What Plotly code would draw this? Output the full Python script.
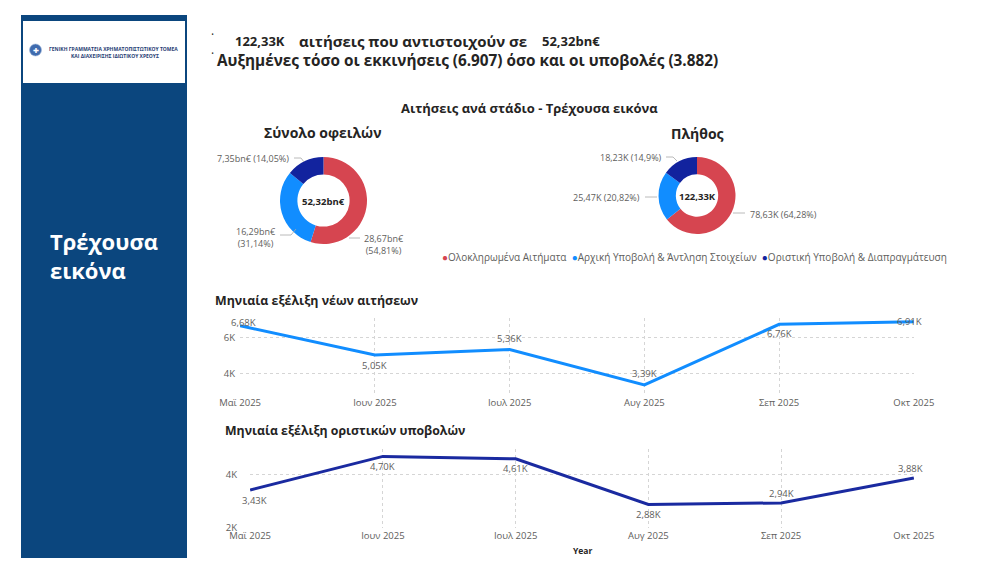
import plotly.graph_objects as go

W, H = 993, 573


def px(x):
    return x / W


def py(y):
    return 1 - y / H


# ---------------- data ----------------
stages = ["Ολοκληρωμένα Αιτήματα", "Αρχική Υποβολή & Άντληση Στοιχείων",
          "Οριστική Υποβολή & Διαπραγμάτευση"]
stage_colors = ["#D64550", "#118DFF", "#12239E"]
debt_bn = [28.67, 16.29, 7.35]
debt_pct = [54.81, 31.14, 14.05]
count_k = [78.63, 25.47, 18.23]
count_pct = [64.28, 20.82, 14.9]
total_debt_bn = 52.32
total_count_k = 122.33

months = ["Μαϊ 2025", "Ιουν 2025", "Ιουλ 2025", "Αυγ 2025", "Σεπ 2025", "Οκτ 2025"]
new_apps = [6680, 5050, 5360, 3390, 6760, 6907]
final_subs = [3430, 4700, 4610, 2880, 2940, 3882]
new_tick_vals = [4000, 6000]
new_tick_labels = ["4K", "6K"]
fin_tick_vals = [2000, 4000]
fin_tick_labels = ["2K", "4K"]

FONT = "Open Sans"
GREY = "#605E5C"
DARK = "#252423"


def dec(v, d=2):
    return f"{v:.{d}f}".replace(".", ",")


def gnum(v):
    return f"{v:g}".replace(".", ",")


def kfmt(v):
    return dec(v / 1000) + "K"


def thousands(v):
    return f"{v:,}".replace(",", ".")


annotations = []
shapes = []


def ann(text, x, y, size, color=DARK, xanchor="center", align="center", family=FONT):
    annotations.append(dict(text=text, x=px(x), y=py(y), xref="paper", yref="paper",
                            showarrow=False, xanchor=xanchor, yanchor="middle", align=align,
                            font=dict(size=size, color=color, family=family)))


fig = go.Figure()

# ---------------- donuts ----------------
fig.add_trace(go.Pie(values=debt_bn, labels=stages, marker=dict(colors=stage_colors),
                     hole=0.6, sort=False, direction="clockwise", rotation=0,
                     textinfo="none", hoverinfo="skip", showlegend=False,
                     domain=dict(x=[px(280), px(367)], y=[py(244), py(157)])))
fig.add_trace(go.Pie(values=count_k, labels=stages, marker=dict(colors=stage_colors),
                     hole=0.55, sort=False, direction="clockwise", rotation=0,
                     textinfo="none", hoverinfo="skip", showlegend=False,
                     domain=dict(x=[px(658.5), px(735.5)], y=[py(234), py(157)])))

# ---------------- lines ----------------
fig.add_trace(go.Scatter(x=months, y=new_apps, mode="lines",
                         line=dict(color="#118DFF", width=3),
                         hoverinfo="skip", showlegend=False, xaxis="x", yaxis="y"))
fig.add_trace(go.Scatter(x=months, y=final_subs, mode="lines",
                         line=dict(color="#1A2AA0", width=3),
                         hoverinfo="skip", showlegend=False, xaxis="x2", yaxis="y2"))

# data labels, anchored on the data points through the axes
new_shift = [(3, 3), (0, -10), (0, 10.5), (0, 11), (0, -9), (-4, 0)]
fin_shift = [(4, -11), (0, -10.5), (0, -9.5), (0, -10), (0, 9), (-3, 10)]
for xr, yr, vals, shifts in (("x", "y", new_apps, new_shift), ("x2", "y2", final_subs, fin_shift)):
    for m, v, (dx, dy) in zip(months, vals, shifts):
        annotations.append(dict(text=kfmt(v), x=m, y=v, xref=xr, yref=yr, showarrow=False,
                                xanchor="center", yanchor="middle", xshift=dx, yshift=dy,
                                font=dict(size=9.5, color=GREY, family=FONT)))

axis_common = dict(showgrid=True, gridcolor="#D5D5D5", griddash="dot", gridwidth=1,
                   zeroline=False, showline=False, ticks="", automargin=False,
                   tickfont=dict(size=9.5, color=GREY, family=FONT))

# left panel
shapes.append(dict(type="rect", xref="paper", yref="paper", x0=px(21), x1=px(187),
                   y0=py(558), y1=py(15), fillcolor="#0B467E", line=dict(width=0), layer="below"))
shapes.append(dict(type="rect", xref="paper", yref="paper", x0=px(23), x1=px(185),
                   y0=py(83), y1=py(21), fillcolor="white", line=dict(width=0), layer="below"))
shapes.append(dict(type="circle", xref="paper", yref="paper", x0=px(29.5), x1=px(41.5),
                   y0=py(56), y1=py(44), fillcolor="#3F6BAE",
                   line=dict(width=0.6, color="#9DB5D8")))
ann("✚", 35.5, 50, 7, "white")
ann("<b>ΓΕΝΙΚΗ ΓΡΑΜΜΑΤΕΙΑ ΧΡΗΜΑΤΟΠΙΣΤΩΤΙΚΟΥ ΤΟΜΕΑ</b>", 113, 49, 5, "#1F3C73")
ann("<b>ΚΑΙ ΔΙΑΧΕΙΡΙΣΗΣ ΙΔΙΩΤΙΚΟΥ ΧΡΕΟΥΣ</b>", 115, 56, 5, "#1F3C73")
ann("<b>Τρέχουσα<br>εικόνα</b>", 48, 256, 22, "white", xanchor="left", align="left")

# header
ann("·", 212, 35, 12)
ann("·", 212, 53, 12)
ann("<b>" + dec(total_count_k) + "K</b>", 233, 41, 13, xanchor="left")
ann("<b>αιτήσεις που αντιστοιχούν σε</b>", 297, 41, 15, xanchor="left")
ann("<b>" + dec(total_debt_bn) + "bn€</b>", 540, 41, 13, xanchor="left")
ann("<b>Αυξημένες τόσο οι εκκινήσεις (" + thousands(new_apps[-1]) +
    ") όσο και οι υποβολές (" + thousands(final_subs[-1]) + ")</b>", 215, 60, 15.3,
    xanchor="left")

# section titles
ann("<b>Αιτήσεις ανά στάδιο - Τρέχουσα εικόνα</b>", 529, 108, 13)
ann("<b>Σύνολο οφειλών</b>", 323, 132, 14)
ann("<b>Πλήθος</b>", 697, 133, 14)
ann("<b>" + dec(total_debt_bn) + "bn€</b>", 323.5, 201, 9.5)
ann("<b>" + dec(total_count_k) + "K</b>", 697, 196, 9.5)

# donut data labels
d_labels = [
    (dec(debt_bn[0]) + "bn€<br>(" + gnum(debt_pct[0]) + "%)", 362, 244.5, "left"),
    (dec(debt_bn[1]) + "bn€<br>(" + gnum(debt_pct[1]) + "%)", 278, 237, "right"),
    (dec(debt_bn[2]) + "bn€ (" + gnum(debt_pct[2]) + "%)", 291, 158, "right"),
    (dec(count_k[0]) + "K (" + gnum(count_pct[0]) + "%)", 748, 214, "left"),
    (dec(count_k[1]) + "K (" + gnum(count_pct[1]) + "%)", 642, 197, "right"),
    (dec(count_k[2]) + "K (" + gnum(count_pct[2]) + "%)", 664, 157, "right"),
]
for t, x, y, anc in d_labels:
    ann(t, x, y, 9, GREY, xanchor=anc, align="center")

leaders = [
    [(349, 238), (360, 238)],
    [(280, 235), (291, 235), (296, 229)],
    [(294, 158), (301, 158), (304, 162)],
    [(733, 213), (745, 213)],
    [(645, 197), (657, 197)],
    [(666, 157), (673, 157), (677, 161)],
]
for pts in leaders:
    path = "M " + " L ".join(f"{px(a)},{py(b)}" for a, b in pts)
    shapes.append(dict(type="path", xref="paper", yref="paper", path=path,
                       line=dict(color="#A8A8A8", width=0.8)))

# legend
legend_txt = "  ".join(f"<span style='color:{c}'>●</span>{s}"
                       for s, c in zip(stages, stage_colors))
ann(legend_txt, 694, 257, 10, GREY)

# line chart titles
ann("<b>Μηνιαία εξέλιξη νέων αιτήσεων</b>", 213, 300, 12.4, xanchor="left")
ann("<b>Μηνιαία εξέλιξη οριστικών υποβολών</b>", 223, 430, 12.3, xanchor="left")
ann("<b>Year</b>", 582, 550, 8.5)

fig.update_layout(
    width=W, height=H, margin=dict(l=0, r=0, t=0, b=0, autoexpand=False),
    paper_bgcolor="white", plot_bgcolor="rgba(0,0,0,0)",
    font=dict(family=FONT, color=GREY),
    separators=",.",
    xaxis=dict(axis_common, domain=[px(240), px(914)], anchor="y", type="category",
               range=[-0.001, 5.001]),
    yaxis=dict(axis_common, domain=[py(395), py(318)], anchor="x", range=[2830, 7110],
               tickvals=new_tick_vals, ticktext=new_tick_labels, ticklabelstandoff=4),
    xaxis2=dict(axis_common, domain=[px(250), px(914)], anchor="y2", type="category",
                range=[-0.001, 5.001]),
    yaxis2=dict(axis_common, domain=[py(528), py(449)], anchor="x2", range=[1990, 4980],
                tickvals=fin_tick_vals, ticktext=fin_tick_labels, ticklabelstandoff=12),
    shapes=shapes, annotations=annotations,
)

fig.write_html("out.html", config={"displayModeBar": False},
               post_script="document.body.style.margin='0';")
